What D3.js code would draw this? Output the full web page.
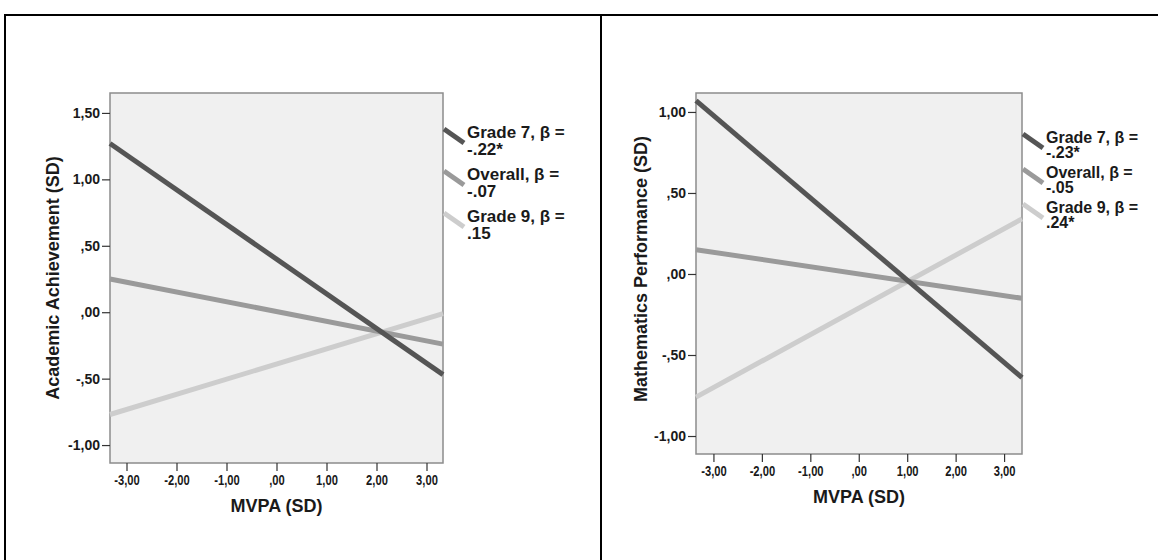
<!DOCTYPE html>
<html>
<head>
<meta charset="utf-8">
<script src="https://cdn.jsdelivr.net/npm/d3@7"></script>
<style>
  body { margin: 0; background: #fff; }
  svg { display: block; }
  text { font-family: Arial, "Liberation Sans", sans-serif; font-weight: bold; fill: #1a1a1a; }
</style>
</head>
<body>
<script>
// series
const groups     = ['Grade 7', 'Overall', 'Grade 9'];
const lineColors = ['#555555', '#9a9a9a', '#cdcdcd'];

// left panel: academic achievement
const achBetas = ['-.22*', '-.07', '.15'];
const achStart = [1.27, 0.25, -0.77];   // value at MVPA = -3.33
const achEnd   = [-0.47, -0.24, -0.01]; // value at MVPA = 3.33

// right panel: mathematics performance
const mathBetas = ['-.23*', '-.05', '.24*'];
const mathStart = [1.07, 0.15, -0.76];
const mathEnd   = [-0.64, -0.15, 0.34];

const xTicks     = [-3, -2, -1, 0, 1, 2, 3];
const achYTicks  = [-1, -0.5, 0, 0.5, 1, 1.5];
const mathYTicks = [-1, -0.5, 0, 0.5, 1];

const W = 1158, H = 560;

const svg = d3.select('body').append('svg')
  .attr('width', W)
  .attr('height', H);

// table borders round the two panels
svg.append('path')
  .attr('d', 'M5,' + H + 'V15H' + W + 'M601,15V' + H)
  .attr('fill', 'none')
  .attr('stroke', '#000')
  .attr('stroke-width', 2);

// SPSS style numbers: ",50", "-1,00"
function spss(v) {
  return v.toFixed(2).replace(/^(-?)0\./, '$1.').replace('.', ',');
}

function drawPanel(o) {
  const x = d3.scaleLinear().domain(o.xDomain).range([o.left, o.right]);
  const y = d3.scaleLinear().domain(o.yDomain).range([o.bottom, o.top]);
  const g = svg.append('g');

  g.append('rect')
    .attr('x', o.left).attr('y', o.top)
    .attr('width', o.right - o.left).attr('height', o.bottom - o.top)
    .attr('fill', '#f0f0f0')
    .attr('stroke', '#8c8c8c')
    .attr('stroke-width', 1.5);

  // axes
  const yAxis = g.append('g')
    .attr('transform', 'translate(' + o.left + ',0)')
    .call(d3.axisLeft(y).tickValues(o.yTicks).tickFormat(spss).tickSize(8).tickPadding(2));
  const xAxis = g.append('g')
    .attr('transform', 'translate(0,' + o.bottom + ')')
    .call(d3.axisBottom(x).tickValues(xTicks).tickFormat(spss).tickSize(8).tickPadding(4));
  [yAxis, xAxis].forEach(function (a) {
    a.select('.domain').remove();
    a.selectAll('.tick line').attr('stroke', '#333').attr('stroke-width', 1.2);
    a.selectAll('.tick text')
      .attr('fill', '#1a1a1a')
      .style('font-family', 'Arial, "Liberation Sans", sans-serif')
      .style('font-weight', 'bold')
      .style('font-size', '14px');
  });
  // x tick labels are squeezed sideways in the original
  xAxis.selectAll('.tick text').attr('transform', 'scale(0.8,1)');

  // fitted lines
  const line = d3.line().x(function (d) { return x(d[0]); }).y(function (d) { return y(d[1]); });
  const series = groups.map(function (name, i) {
    return { name: name, color: lineColors[i], pts: [[o.xDomain[0], o.start[i]], [o.xDomain[1], o.end[i]]] };
  });
  g.selectAll('path.fit')
    .data(series.slice().reverse())
    .join('path')
    .attr('class', 'fit')
    .attr('d', function (d) { return line(d.pts); })
    .attr('fill', 'none')
    .attr('stroke', function (d) { return d.color; })
    .attr('stroke-width', 5);

  // axis titles
  g.append('text')
    .attr('x', (o.left + o.right) / 2)
    .attr('y', o.xTitleY)
    .attr('text-anchor', 'middle')
    .style('font-size', '18px')
    .text('MVPA (SD)');
  g.append('text')
    .attr('transform', 'translate(' + o.yTitleX + ',' + o.yTitleC + ') rotate(-90)')
    .attr('text-anchor', 'middle')
    .style('font-size', '18px')
    .text(o.yTitle);

  // legend
  const leg = g.selectAll('g.leg')
    .data(groups)
    .join('g')
    .attr('class', 'leg')
    .attr('transform', function (d, i) { return 'translate(0,' + (o.legTop + i * o.legStep) + ')'; });
  leg.append('line')
    .attr('x1', o.right + 1).attr('y1', -9)
    .attr('x2', o.right + 21).attr('y2', 5)
    .attr('stroke', function (d, i) { return lineColors[i]; })
    .attr('stroke-width', 5);
  leg.append('text')
    .attr('x', o.right + 24)
    .style('font-size', o.legFont + 'px')
    .text(function (d) { return d + ', β ='; });
  leg.append('text')
    .attr('x', o.right + 24)
    .attr('y', o.legLine)
    .style('font-size', o.legFont + 'px')
    .text(function (d, i) { return o.betas[i]; });
}

drawPanel({
  left: 110, right: 443, top: 93, bottom: 463,
  xDomain: [-3.33, 3.33], yDomain: [-1.135, 1.65],
  yTicks: achYTicks, start: achStart, end: achEnd, betas: achBetas,
  yTitle: 'Academic Achievement (SD)', yTitleX: 59, yTitleC: 278, xTitleY: 512,
  legTop: 138, legStep: 42, legLine: 17, legFont: 17
});

drawPanel({
  left: 696, right: 1022, top: 93, bottom: 454,
  xDomain: [-3.36, 3.37], yDomain: [-1.111, 1.117],
  yTicks: mathYTicks, start: mathStart, end: mathEnd, betas: mathBetas,
  yTitle: 'Mathematics Performance (SD)', yTitleX: 647, yTitleC: 269, xTitleY: 503,
  legTop: 143, legStep: 35, legLine: 15, legFont: 16
});
</script>
</body>
</html>
